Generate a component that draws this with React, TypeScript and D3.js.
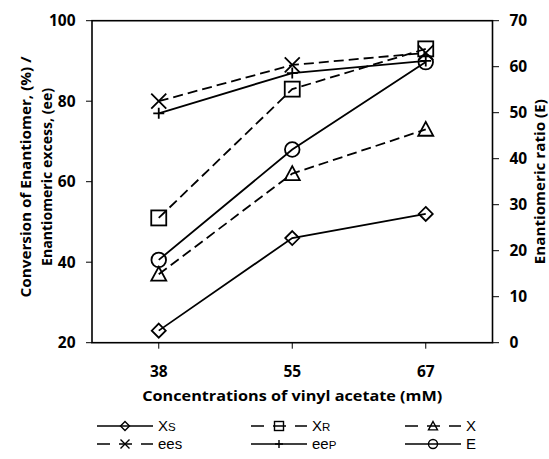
import React from "react";
import * as d3 from "d3";

const categories = ["38", "55", "67"];
const xsValues = [23, 46, 52];
const xrValues = [51, 83, 93];
const xValues = [37, 62, 73];
const eesValues = [80, 89, 92];
const eepValues = [77, 87, 90];
const eValues = [18, 42, 61];
const leftTicks = [20, 40, 60, 80, 100];
const rightTicks = [0, 10, 20, 30, 40, 50, 60, 70];

type Series = { key: string; label: string; sub: string; values: number[]; dashed: boolean; marker: string; axis: "l" | "r" };
const series: Series[] = [
  { key: "xs", label: "X", sub: "S", values: xsValues, dashed: false, marker: "diamond", axis: "l" },
  { key: "xr", label: "X", sub: "R", values: xrValues, dashed: true, marker: "square", axis: "l" },
  { key: "x", label: "X", sub: "", values: xValues, dashed: true, marker: "triangle", axis: "l" },
  { key: "ees", label: "ees", sub: "", values: eesValues, dashed: true, marker: "x", axis: "l" },
  { key: "eep", label: "ee", sub: "P", values: eepValues, dashed: false, marker: "plus", axis: "l" },
  { key: "e", label: "E", sub: "", values: eValues, dashed: false, marker: "circle", axis: "r" },
];

const W = 549, H = 459;
const L = 92, R = 492.5, T = 20.7, B = 342.7;
const font = "'Open Sans', 'DejaVu Sans', sans-serif";

function Marker({ type, x, y, s, sw }: { type: string; x: number; y: number; s: number; sw: number }) {
  const st = { fill: "none", stroke: "black", strokeWidth: sw } as any;
  switch (type) {
    case "diamond":
      return <path d={`M${x},${y - s}L${x + s},${y}L${x},${y + s}L${x - s},${y}Z`} {...st} />;
    case "square":
      return <rect x={x - s} y={y - s} width={2 * s} height={2 * s} {...st} />;
    case "triangle":
      return <path d={`M${x},${y - s}L${x + s},${y + s * 0.85}L${x - s},${y + s * 0.85}Z`} {...st} />;
    case "circle":
      return <circle cx={x} cy={y} r={s} {...st} />;
    case "x":
      return <path d={`M${x - s},${y - s}L${x + s},${y + s}M${x - s},${y + s}L${x + s},${y - s}`} {...st} />;
    case "plus":
      return <path d={`M${x - s},${y}L${x + s},${y}M${x},${y - s}L${x},${y + s}`} {...st} />;
  }
  return null;
}

const markerSize: Record<string, number> = { diamond: 7, square: 7.5, triangle: 7.5, circle: 7.3, x: 7.5, plus: 5.5 };

export default function App() {
  const x = d3.scaleBand<string>().domain(categories).range([L, R]);
  const yl = d3.scaleLinear().domain([20, 100]).range([B, T]);
  const yr = d3.scaleLinear().domain([0, 70]).range([B, T]);
  const cx = (c: string) => (x(c) as number) + x.bandwidth() / 2;

  const legendCols = [97, 251, 405];
  const legendRows = [426, 444];
  const lineLen = 56;

  return (
    <svg width={W} height={H} style={{ position: "absolute", left: 0, top: 0, background: "white" }} fontFamily={font}>
      <rect x={0} y={0} width={W} height={H} fill="white" />
      <rect x={L} y={T} width={R - L} height={B - T} fill="none" stroke="black" strokeWidth={1.6} />
      {leftTicks.map((t) => (
        <g key={"l" + t}>
          <line x1={L - 6} x2={L} y1={yl(t)} y2={yl(t)} stroke="black" strokeWidth={1} />
          <text x={75.5} y={yl(t)} dy="0.36em" textAnchor="end" fontSize={15.5} fontWeight="bold">{t}</text>
        </g>
      ))}
      {rightTicks.map((t) => (
        <g key={"r" + t}>
          <line x1={R} x2={R + 6.5} y1={yr(t)} y2={yr(t)} stroke="black" strokeWidth={1} />
          <text x={509.5} y={yr(t)} dy="0.36em" textAnchor="start" fontSize={15.5} fontWeight="bold">{t}</text>
        </g>
      ))}
      {categories.map((c) => (
        <g key={"c" + c}>
          <line x1={cx(c)} x2={cx(c)} y1={B} y2={B + 6} stroke="black" strokeWidth={1} />
          <text x={cx(c)} y={371} dy="0.36em" textAnchor="middle" fontSize={15.5} fontWeight="bold">{c}</text>
        </g>
      ))}
      <text x={(L + R) / 2} y={401} textAnchor="middle" fontSize={15} fontWeight="bold" textLength={300} lengthAdjust="spacingAndGlyphs">Concentrations of vinyl acetate (mM)</text>
      <text transform={`translate(31,177) rotate(-90)`} textAnchor="middle" fontSize={15} fontWeight="bold" textLength={241} lengthAdjust="spacingAndGlyphs">Conversion of Enantiomer, (%) /</text>
      <text transform={`translate(52,177) rotate(-90)`} textAnchor="middle" fontSize={15} fontWeight="bold" textLength={178} lengthAdjust="spacingAndGlyphs">Enantiomeric excess, (ee)</text>
      <text transform={`translate(545,${(T + B) / 2}) rotate(-90)`} textAnchor="middle" fontSize={15} fontWeight="bold" textLength={165} lengthAdjust="spacingAndGlyphs">Enantiomeric ratio (E)</text>

      {series.map((s) => {
        const ys = s.axis === "l" ? yl : yr;
        const line = d3.line<number>().x((_, i) => cx(categories[i])).y((v) => ys(v));
        return (
          <g key={s.key}>
            <path d={line(s.values) || ""} fill="none" stroke="black" strokeWidth={1.8} strokeDasharray={s.dashed ? "10,5" : undefined} />
            {s.values.map((v, i) => (
              <Marker key={i} type={s.marker} x={cx(categories[i])} y={ys(v)} s={markerSize[s.marker]} sw={1.8} />
            ))}
          </g>
        );
      })}

      {series.map((s, i) => {
        const lx = legendCols[i % 3];
        const ly = legendRows[Math.floor(i / 3)];
        return (
          <g key={"leg" + s.key}>
            <line x1={lx} x2={lx + lineLen} y1={ly} y2={ly} stroke="black" strokeWidth={1.5} strokeDasharray={s.dashed ? "13,9,13,9,13" : undefined} />
            <Marker type={s.marker} x={lx + lineLen / 2} y={ly} s={s.marker === "plus" ? 4 : 4.5} sw={1.4} />
            <text x={lx + lineLen + 5} y={ly} dy="0.36em" fontSize={15} fontFamily="'Liberation Sans', Arial, sans-serif">
              {s.label}
              {s.sub ? <tspan fontSize={11.5}>{s.sub}</tspan> : null}
            </text>
          </g>
        );
      })}
    </svg>
  );
}
